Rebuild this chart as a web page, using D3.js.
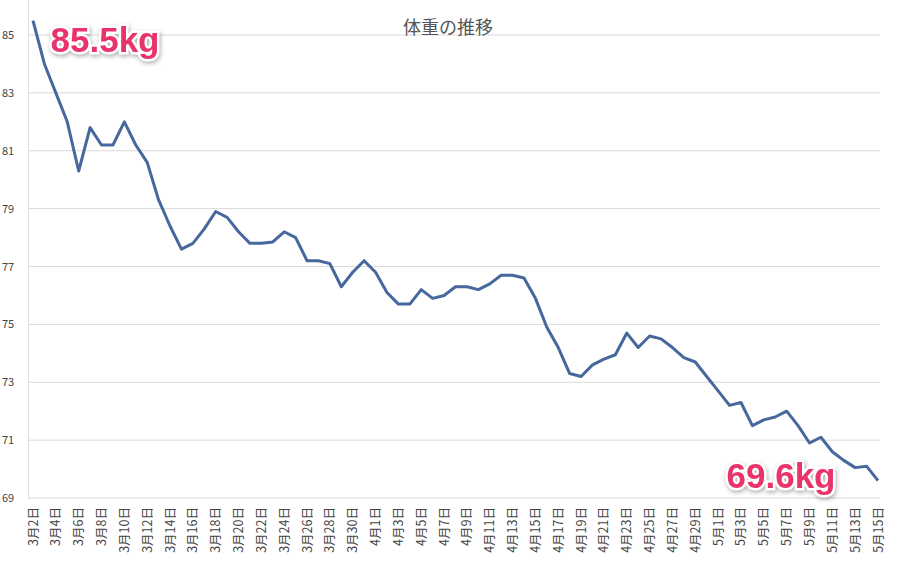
<!DOCTYPE html>
<html>
<head>
<meta charset="utf-8">
<script src="https://cdn.jsdelivr.net/npm/d3@7"></script>
<style>
body { margin: 0; background: #fff; }
svg { font-family: "Noto Sans CJK JP", sans-serif; }
</style>
</head>
<body>
<svg id="chart" width="900" height="582"></svg>
<script>
// daily weight, 3/2 - 5/15
var months = [3, 4, 5];
var monthDays = [[2, 31], [1, 30], [1, 15]];
var weights = [
    85.5, 84.0, 83.0, 82.0, 80.3, 81.8, 81.2, 81.2, 82.0, 81.2,
    80.6, 79.3, 78.4, 77.6, 77.8, 78.3, 78.9, 78.7, 78.2, 77.8,
    77.8, 77.85, 78.2, 78.0, 77.2, 77.2, 77.1, 76.3, 76.8, 77.2,
    76.8, 76.1, 75.7, 75.7, 76.2, 75.9, 76.0, 76.3, 76.3, 76.2,
    76.4, 76.7, 76.7, 76.6, 75.9, 74.9, 74.2, 73.3, 73.2, 73.6,
    73.8, 73.95, 74.7, 74.2, 74.6, 74.5, 74.2, 73.85, 73.7, 73.2,
    72.7, 72.2, 72.3, 71.5, 71.7, 71.8, 72.0, 71.5, 70.9, 71.1,
    70.6, 70.3, 70.05, 70.1, 69.6
];
var yTicks = [69, 71, 73, 75, 77, 79, 81, 83, 85];
var title = "体重の推移";
var startLabel = "85.5kg";
var endLabel = "69.6kg";

var dates = [];
months.forEach(function(m, i) {
    for (var d = monthDays[i][0]; d <= monthDays[i][1]; d ++) {
        dates.push(m + "月" + d + "日");
    }
});

var svg = d3.select("#chart");

var x = d3.scalePoint().domain(dates).range([33, 878]);
var y = d3.scaleLinear().domain([69, 85]).range([498, 35]);

/*
 * Grid lines and y labels.
 */
svg.selectAll(".grid").data(yTicks).enter().append("line")
    .attr("x1", 28).attr("x2", 880)
    .attr("y1", function(d) { return y(d); })
    .attr("y2", function(d) { return y(d); })
    .attr("stroke", "#d9d9d9").attr("stroke-width", 1);

svg.append("line").attr("x1", 28.5).attr("x2", 28.5)
    .attr("y1", 0).attr("y2", 498).attr("stroke", "#e0e0e0");

svg.selectAll(".ylab").data(yTicks).enter().append("text")
    .attr("x", 2).attr("y", function(d) { return y(d) + 4; })
    .attr("font-size", 11).attr("fill", "#444")
    .text(String);

/*
 * Rotated x labels, every second day.
 */
svg.selectAll(".xlab").data(dates.filter(function(d, i) { return i % 2 == 0; }))
    .enter().append("text")
    .attr("transform", function(d) { return "translate(" + (x(d) + 4.5) + ",507) rotate(-90)"; })
    .attr("text-anchor", "end")
    .attr("font-size", 12.5).attr("fill", "#444")
    .text(String);

svg.append("text").attr("x", 448).attr("y", 34)
    .attr("text-anchor", "middle").attr("font-size", 18).attr("fill", "#555")
    .text(title);

svg.append("path").datum(weights)
    .attr("fill", "none").attr("stroke", "#46689d").attr("stroke-width", 3)
    .attr("stroke-linejoin", "round")
    .attr("d", d3.line()
        .x(function(d, i) { return x(dates[i]); })
        .y(function(d) { return y(d); }));

/*
 * Pink annotations.
 */
[[startLabel, 105, 52], [endLabel, 781, 488]].forEach(function(a) {
    svg.append("text").attr("x", a[1]).attr("y", a[2])
        .attr("text-anchor", "middle")
        .attr("font-family", "Liberation Sans, Arial, sans-serif")
        .attr("font-size", 35).attr("font-weight", "bold")
        .attr("fill", "#e8336b").attr("stroke", "#fff").attr("stroke-width", 5)
        .attr("paint-order", "stroke")
        .style("filter", "drop-shadow(1px 2px 2px rgba(0,0,0,0.3))")
        .text(a[0]);
});
</script>
</body>
</html>
